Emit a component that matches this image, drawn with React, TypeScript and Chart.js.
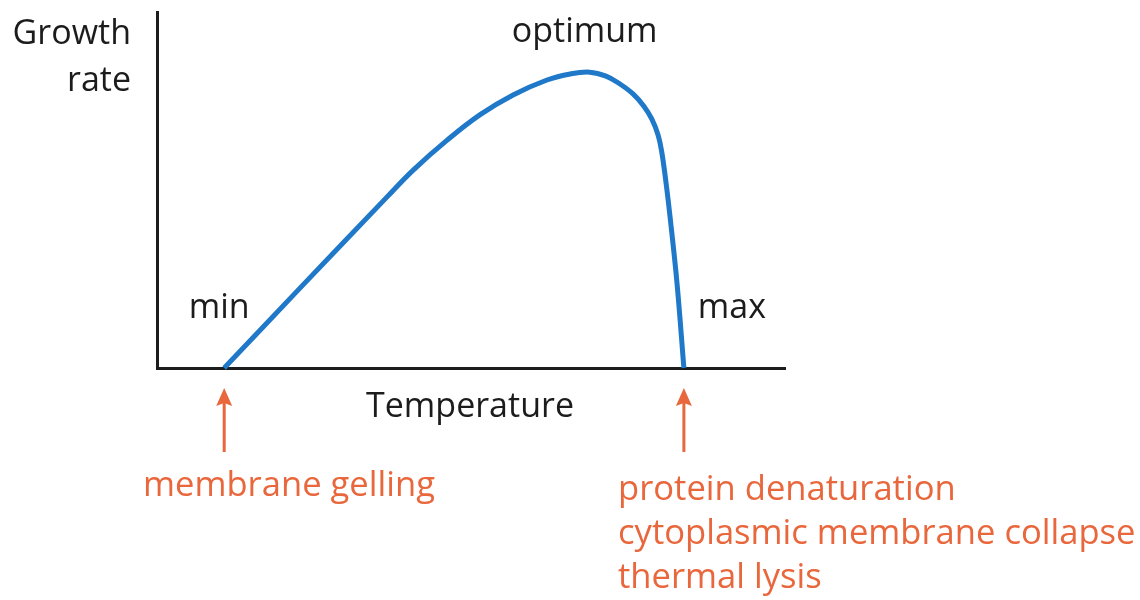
import React, { useEffect, useRef } from "react";
import { Chart, registerables } from "chart.js";

Chart.register(...registerables);

// Temperature (arbitrary units) and growth rate (arbitrary units)
const temperature = [10.7, 22.8, 36.6, 40.8, 46.2, 51.4, 56.7, 62.1, 65.8, 68.9, 71.5, 73.7, 75.8, 77.5, 78.8, 79.8, 80.4, 81.1, 81.7, 82.8, 83.9];
const growthRate = [0, 22.5, 48.0, 55.6, 64.0, 71.1, 76.7, 80.9, 82.6, 83.1, 82.0, 79.8, 77.0, 73.6, 69.9, 65.4, 60.4, 51.4, 42.4, 23.9, 0];

const yAxisLabel = ["Growth", "rate"];
const xAxisLabel = "Temperature";
const pointLabels = ["min", "optimum", "max"];
const lowCause = ["membrane gelling"];
const highCauses = ["protein denaturation", "cytoplasmic membrane collapse", "thermal lysis"];

const FONT = "'Open Sans', 'Noto Sans', sans-serif";
const BLACK = "#1c1c1c";
const ORANGE = "#e9673c";
const BLUE = "#1f78c8";

const annotationPlugin = {
  id: "annotations",
  afterDraw(chart: any) {
    const { ctx, chartArea, scales } = chart;
    const xs = scales.x;
    const ys = scales.y;
    const xMin = xs.getPixelForValue(temperature[0]);
    const xMax = xs.getPixelForValue(temperature[temperature.length - 1]);
    let peakIdx = 0;
    growthRate.forEach((v, i) => { if (v > growthRate[peakIdx]) peakIdx = i; });
    const xPeak = xs.getPixelForValue(temperature[peakIdx]);
    const yPeak = ys.getPixelForValue(growthRate[peakIdx]);
    ctx.save();
    ctx.font = `34px ${FONT}`;
    ctx.fillStyle = BLACK;
    ctx.textBaseline = "alphabetic";
    // y axis label
    ctx.textAlign = "right";
    ctx.fillText(yAxisLabel[0], chartArea.left - 26, 44);
    ctx.fillText(yAxisLabel[1], chartArea.left - 26, 91);
    // x axis label
    ctx.textAlign = "center";
    ctx.fillText(xAxisLabel, 470, chartArea.bottom + 49);
    // min / optimum / max
    ctx.fillText(pointLabels[0], xMin - 5, chartArea.bottom - 50);
    ctx.fillText(pointLabels[1], xPeak - 5, yPeak - 30);
    ctx.fillText(pointLabels[2], xMax + 48, chartArea.bottom - 50);

    // arrows
    ctx.strokeStyle = ORANGE;
    ctx.fillStyle = ORANGE;
    ctx.lineWidth = 3;
    [xMin, xMax].forEach((x) => {
      const top = chartArea.bottom + 20;
      ctx.beginPath();
      ctx.moveTo(x, top + 12);
      ctx.lineTo(x, chartArea.bottom + 84);
      ctx.stroke();
      ctx.beginPath();
      ctx.moveTo(x, top);
      ctx.lineTo(x - 8, top + 18);
      ctx.lineTo(x, top + 15);
      ctx.lineTo(x + 8, top + 18);
      ctx.closePath();
      ctx.fill();
    });

    // causes
    ctx.font = `34.6px ${FONT}`;
    ctx.textAlign = "left";
    ctx.fillText(lowCause[0], 143, 496);
    highCauses.forEach((t, i) => {
      ctx.fillText(t, 618, 500 + i * 44);
    });
    ctx.restore();
  },
};

export default function App() {
  const ref = useRef<HTMLCanvasElement>(null);
  useEffect(() => {
    document.body.style.margin = "0";
    const chart = new Chart(ref.current as HTMLCanvasElement, {
      type: "line",
      data: {
        datasets: [
          {
            data: temperature.map((t, i) => ({ x: t, y: growthRate[i] })),
            borderColor: BLUE,
            borderWidth: 5,
            pointRadius: 0,
            tension: 0.4,
            fill: false,
            clip: false as any,
          },
        ],
      },
      options: {
        animation: false,
        responsive: false,
        events: [],
        layout: { padding: { left: 157, right: 355, top: 12, bottom: 232 } },
        plugins: { legend: { display: false }, tooltip: { enabled: false } },
        scales: {
          x: {
            type: "linear",
            min: 0,
            max: 100,
            grid: { display: false, drawTicks: false },
            ticks: { display: false },
            border: { display: true, color: BLACK, width: 3 },
          },
          y: {
            type: "linear",
            min: 0,
            max: 100,
            grid: { display: false, drawTicks: false },
            ticks: { display: false },
            border: { display: true, color: BLACK, width: 3 },
          },
        },
      },
      plugins: [annotationPlugin],
    });
    return () => chart.destroy();
  }, []);
  return (
    <div style={{ position: "absolute", left: 0, top: 0, width: 1140, height: 600, background: "#fff" }}>
      <canvas ref={ref} width={1140} height={600} />
    </div>
  );
}
